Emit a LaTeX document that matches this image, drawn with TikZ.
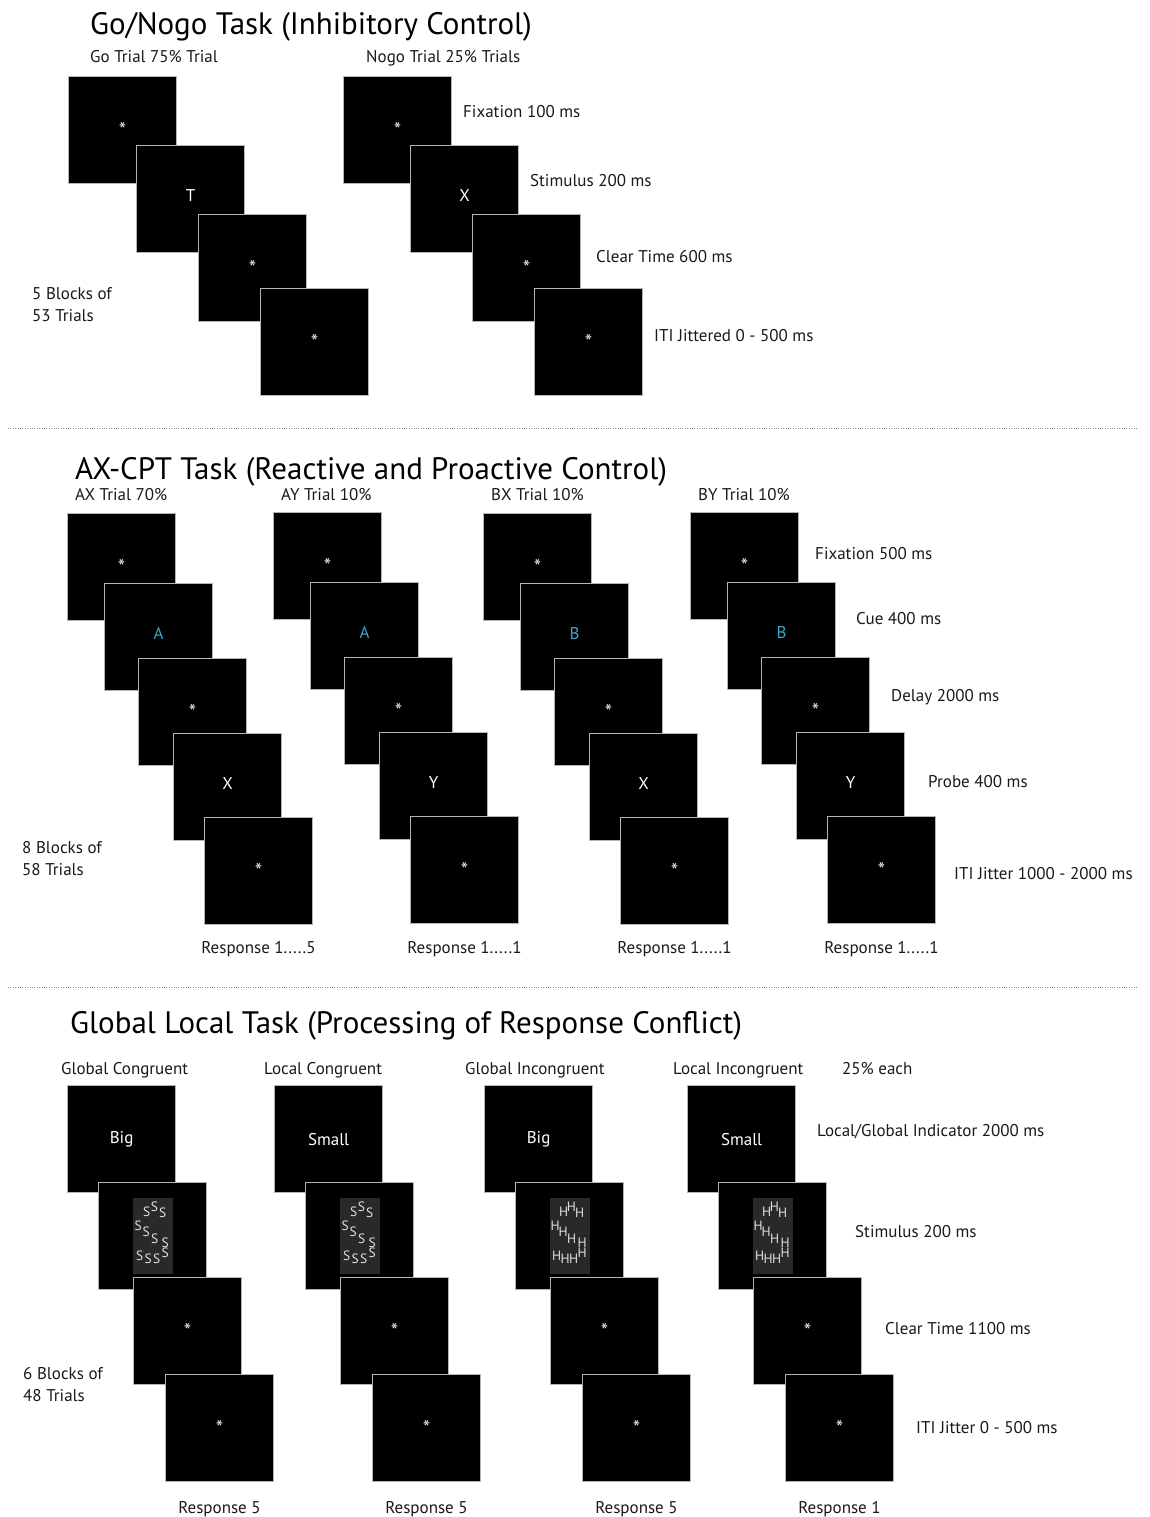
\documentclass[tikz,border=0pt]{standalone}
\usepackage{fontspec}
\setmainfont{PT Sans}
\definecolor{scrborder}{HTML}{B4B4B4}
\definecolor{cuecol}{HTML}{3AA6D0}
\definecolor{txt}{HTML}{1A1A1A}
\definecolor{stimbg}{HTML}{2A2828}
\definecolor{stimfg}{HTML}{E0E0E0}
% square with content: name, left x, top y, content, vertical shift of content
\newcommand\scrn[5]{\node[scr] (#1) at (#2,#3) {}; \node[cnt] (#1c) at ([yshift=#5]#1.center) {#4};}
\newcommand\stardot{{\fontsize{21}{21}\selectfont\color{black!10}*}}
\begin{document}
\begin{tikzpicture}[x=1pt,y=-1pt,
  scr/.style={draw=scrborder, line width=1.2pt, fill=black, minimum width=108pt, minimum height=107pt, inner sep=0pt, anchor=north west},
  cnt/.style={inner sep=0pt, text=white, font=\fontsize{17}{17}\selectfont},
  lbl/.style={anchor=base west, inner sep=0pt, text=txt, font=\fontsize{17}{17}\selectfont},
  clbl/.style={lbl, anchor=base},
  ttl/.style={anchor=base west, inner sep=0pt, text=black, font=\fontsize{31}{31}\selectfont},
  sep/.style={draw=black!45, line width=0.8pt, dash pattern=on 0.8pt off 1.6pt},
  stim/.style={fill=stimbg, minimum width=40pt, minimum height=76pt, inner sep=0pt},
  sl/.style={inner sep=0pt, text=stimfg, font=\fontsize{13.5}{13.5}\selectfont}
]
\fill[white] (0,0) rectangle (1149,1517);
\useasboundingbox (0,0) rectangle (1149,1517);

% ---------------- Go/Nogo ----------------
\node[ttl] (t1) at (90,35) {Go/Nogo Task (Inhibitory Control)};
\node[lbl] (goh) at (90,63) {Go Trial 75\% Trial};
\node[lbl] (nogoh) at (366,63) {Nogo Trial 25\% Trials};
\scrn{G1}{68}{76}{\stardot}{0}
\scrn{G2}{136}{145}{T}{4}
\scrn{G3}{198}{214}{\stardot}{0}
\scrn{G4}{260}{288}{\stardot}{0}
\scrn{N1}{343}{76}{\stardot}{0}
\scrn{N2}{410}{145}{X}{4}
\scrn{N3}{472}{214}{\stardot}{0}
\scrn{N4}{534}{288}{\stardot}{0}
\node[lbl] (gl1) at (463,118) {Fixation 100 ms};
\node[lbl] (gl2) at (530,186) {Stimulus 200 ms};
\node[lbl] (gl3) at (596,262) {Clear Time 600 ms};
\node[lbl] (gl4) at (654,341) {ITI Jittered 0 - 500 ms};
\node[lbl] (gb1) at (32,299) {5 Blocks of};
\node[lbl] (gb2) at (32,321) {53 Trials};

\coordinate (s1a) at (8,428);
\coordinate (s1b) at (1138,428);
\draw[sep] (s1a) -- (s1b);

% ---------------- AX-CPT ----------------
\node[ttl] (t2) at (75,479) {AX-CPT Task (Reactive and Proactive Control)};
\foreach \dx/\dy/\nm/\cue/\prb/\resp in {0/0/AX/A/X/5, 206/-1/AY/A/Y/1, 416/0/BX/B/X/1, 623/-1/BY/B/Y/1}{
  \node[lbl] (\nm h) at (75+\dx,500) {\nm\ Trial \ifnum\dx=0 70\else 10\fi\%};
  \scrn{\nm1}{67+\dx}{513+\dy}{\stardot}{0}
  \scrn{\nm2}{104+\dx}{583+\dy}{\textcolor{cuecol}{\cue}}{4}
  \scrn{\nm3}{138+\dx}{658+\dy}{\stardot}{0}
  \scrn{\nm4}{173+\dx}{733+\dy}{\prb}{4}
  \scrn{\nm5}{204+\dx}{817+\dy}{\stardot}{0}
  \node[clbl] (\nm r) at (258.5+\dx,953) {Response 1.....\resp};
}
\node[lbl] (al1) at (815,559) {Fixation 500 ms};
\node[lbl] (al2) at (856,624) {Cue 400 ms};
\node[lbl] (al3) at (891,701) {Delay 2000 ms};
\node[lbl] (al4) at (928,787) {Probe 400 ms};
\node[lbl] (al5) at (954,879) {ITI Jitter 1000 - 2000 ms};
\node[lbl] (ab1) at (22,853) {8 Blocks of};
\node[lbl] (ab2) at (22,875) {58 Trials};

\coordinate (s2a) at (8,987);
\coordinate (s2b) at (1138,987);
\draw[sep] (s2a) -- (s2b);

% ---------------- Global Local ----------------
\node[ttl] (t3) at (70,1033) {Global Local Task (Processing of Response Conflict)};
\foreach \dx/\hx/\nm/\hd/\word/\ltr/\resp in {0/0/GC/Global Congruent/Big/S/5, 207/203/LC/Local Congruent/Small/S/5, 417/404/GI/Global Incongruent/Big/H/5, 620/612/LI/Local Incongruent/Small/H/1}{
  \node[lbl] (\nm h) at (61+\hx,1074) {\hd};
  \scrn{\nm1}{67+\dx}{1085}{\word}{0}
  \node[scr] (\nm2) at (98+\dx,1182) {};
  \node[stim] (\nm s) at (\nm2.center) {};
  \foreach \px/\py [count=\i] in {-6/-24.5, 1.8/-29.5, 10/-23.5, -14.5/-10.8, -6.5/-4.2, 2/2.5, 12.5/6.5, -13/20, -4.5/23, 4/22.5, 12.5/17}{
    \node[sl] (\nm l\i) at ([shift={(\px,\py)}]\nm s.center) {\ltr};
  }
  \scrn{\nm3}{133+\dx}{1277}{\stardot}{0}
  \scrn{\nm4}{165+\dx}{1374}{\stardot}{0}
  \node[clbl] (\nm r) at (219.5+\dx,1513) {Response \resp};
}
\node[lbl] (gh5) at (842,1074) {25\% each};
\node[lbl] (ll1) at (817,1136) {Local/Global Indicator 2000 ms};
\node[lbl] (ll2) at (855,1237) {Stimulus 200 ms};
\node[lbl] (ll3) at (885,1334) {Clear Time 1100 ms};
\node[lbl] (ll4) at (916,1433) {ITI Jitter 0 - 500 ms};
\node[lbl] (lb1) at (23,1379) {6 Blocks of};
\node[lbl] (lb2) at (23,1401) {48 Trials};
\end{tikzpicture}
\end{document}
